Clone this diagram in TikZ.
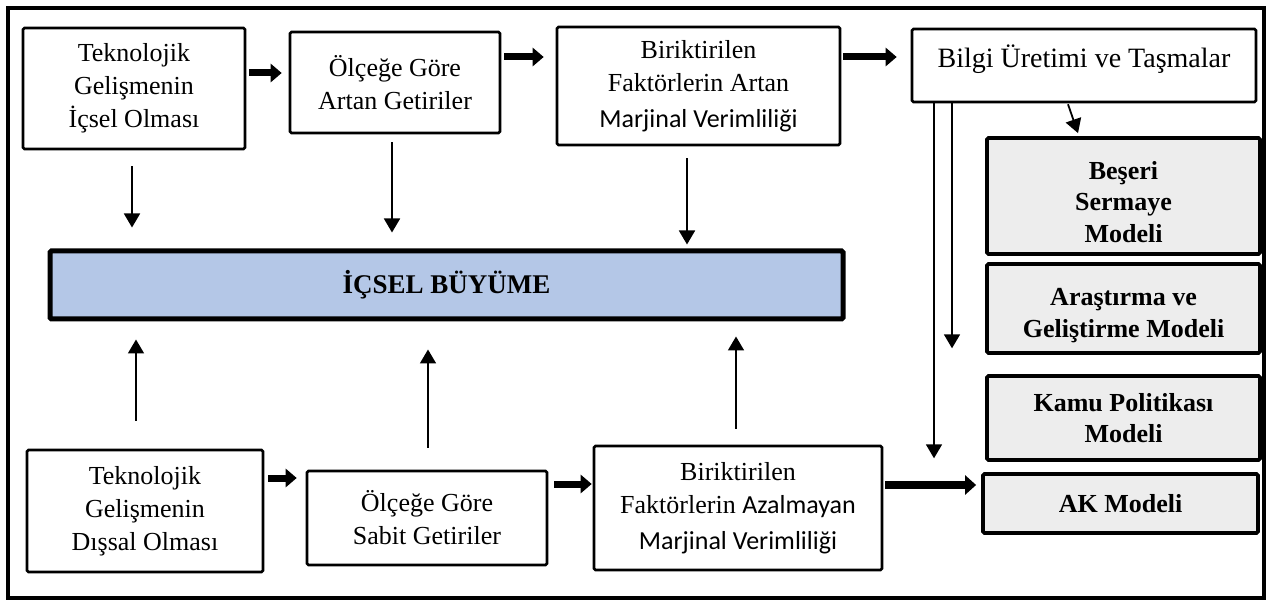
\documentclass[tikz,border=0pt]{standalone}
\usepackage{fontspec}
\setmainfont{Liberation Serif}
\newfontfamily\calfont{Carlito}
\usetikzlibrary{arrows.meta,calc}
\definecolor{bluefill}{RGB}{180,199,231}
\definecolor{grayfill}{RGB}{237,237,237}
\begin{document}
\begin{tikzpicture}[x=1pt,y=-1pt,
  box/.style={draw, line width=2.6pt, rounded corners=1.5pt, align=center, inner sep=0pt,
              font=\fontsize{26}{33}\selectfont},
  gbox/.style={box, fill=grayfill, line width=3.8pt, font=\bfseries\fontsize{26}{31.5}\selectfont},
  tarrow/.style={line width=1.8pt, -{Triangle[width=16pt,length=14pt]}},
  karrow/.style={line width=7pt, -{Triangle[width=18pt,length=11pt]}},
  kkarrow/.style={line width=8.5pt, -{Triangle[width=19pt,length=11pt]}}
]
\useasboundingbox (0,0) rectangle (1269,601);
\draw[line width=4.5pt] (8,8) rectangle (1264,598);

% top row
\node[box, minimum width=222pt, minimum height=121pt] (a1) at (134,88.5) {Teknolojik\\Gelişmenin\\İçsel Olması};
\node[box, minimum width=210pt, minimum height=101pt] (a2) at (395,82.5) {Ölçeğe Göre\\Artan Getiriler};
\node[box, minimum width=283pt, minimum height=118pt] (a3) at (698.5,86) {Biriktirilen\\Faktörlerin Artan\\[3pt]{\calfont Marjinal Verimliliği}};
\node[box, minimum width=344pt, minimum height=73pt, text depth=19pt, font=\fontsize{28}{33}\selectfont] (a4) at (1084,65.5) {Bilgi Üretimi ve Taşmalar};

% central box
\node[box, fill=bluefill, line width=5pt, minimum width=793pt, minimum height=68pt,
      font=\bfseries\fontsize{27}{33}\selectfont] (g) at (446.5,285) {İÇSEL BÜYÜME};

% bottom row
\node[box, minimum width=236pt, minimum height=122pt] (b1) at (145,511) {Teknolojik\\Gelişmenin\\Dışsal Olması};
\node[box, minimum width=240pt, minimum height=94pt] (b2) at (427,518) {Ölçeğe Göre\\Sabit Getiriler};
\node[box, minimum width=288pt, minimum height=124pt] (b3) at (738,508) {Biriktirilen\\Faktörlerin {\calfont Azalmayan}\\[3pt]{\calfont Marjinal Verimliliği}};

% right models
\node[gbox, minimum width=273pt, minimum height=116pt] (r1) at (1123.5,196) {\rule{0pt}{30pt}Beşeri\\Sermaye\\Modeli};
\node[gbox, minimum width=273pt, minimum height=89pt] (r2) at (1123.5,308.5) {\rule{0pt}{31.5pt}Araştırma ve\\Geliştirme Modeli};
\node[gbox, minimum width=273pt, minimum height=84pt] (r3) at (1123.5,418) {Kamu Politikası\\Modeli};
\node[gbox, minimum width=275pt, minimum height=59pt] (r4) at (1120.5,503.5) {AK Modeli};

% thin arrows to central box
\draw[tarrow] ($(a1.south)+(-2,16)$) -- ($(a1.south |- g.north)+(-2,-21)$);
\draw[tarrow] ($(a2.south)+(-3,8)$) -- ($(a2.south |- g.north)+(-3,-16)$);
\draw[tarrow] ($(a3.south)+(-11.5,12)$) -- ($(a3.south |- g.north)+(-11.5,-4)$);
\draw[tarrow] ($(b1.north)+(-9,-28)$) -- ($(b1.north |- g.south)+(-9,18)$);
\draw[tarrow] ($(b2.north)+(1,-22)$) -- ($(b2.north |- g.south)+(1,28)$);
\draw[tarrow] ($(b3.north)+(-2,-16)$) -- ($(b3.north |- g.south)+(-2,15)$);

% thick arrows
\draw[karrow] ($(a1.east)+(3,-15.5)$) -- ($(a2.west |- a1.east)+(-7,-15.5)$);
\draw[karrow] ($(a2.east)+(3,-25.5)$) -- ($(a3.west |- a2.east)+(-12,-25.5)$);
\draw[karrow] ($(a3.east)+(2,-29)$) -- ($(a4.west |- a3.east)+(-14,-29)$);
\draw[karrow] ($(b1.east)+(4,-33)$) -- ($(b2.west |- b1.east)+(-9,-33)$);
\draw[karrow] ($(b2.east)+(6,-34)$) -- ($(b3.west |- b2.east)+(-1,-34)$);
\draw[kkarrow] ($(b3.east)+(2,-23)$) -- ($(r4.west |- b3.east)+(-5,-23)$);

% arrows from knowledge box
\draw[tarrow] ($(a4.south)+(-150,0)$) -- ($(a4.south)+(-150,355)$);
\draw[tarrow] ($(a4.south)+(-132,0)$) -- ($(a4.south)+(-132,245)$);
\draw[tarrow] ($(a4.south)+(-16,1)$) -- ($(r1.north)+(-45.5,-3)$);
\end{tikzpicture}
\end{document}
